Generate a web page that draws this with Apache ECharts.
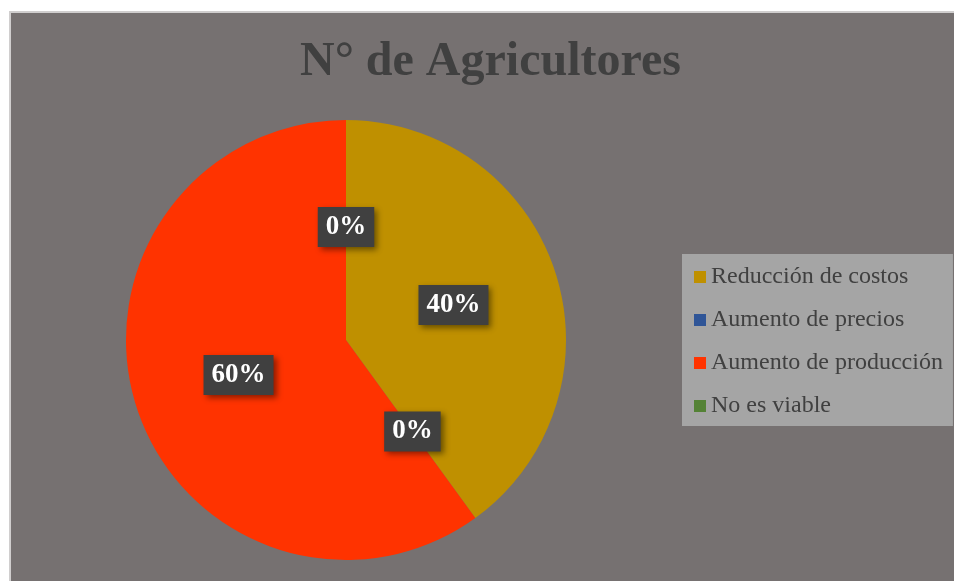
<!DOCTYPE html>
<html>
<head>
<meta charset="utf-8">
<script src="https://cdn.jsdelivr.net/npm/echarts@6/dist/echarts.min.js"></script>
<style>
  html, body { margin: 0; padding: 0; background: #fff; }
  #chart { width: 954px; height: 581px; }
</style>
</head>
<body>
<div id="chart"></div>
<script>
// datos del grafico (porcentajes)
var categorias = ['Reducción de costos', 'Aumento de precios', 'Aumento de producción', 'No es viable']
var valores = [40, 0, 60, 0]

var serif = '"Liberation Serif", "DejaVu Serif", serif'

var chart = echarts.init(document.getElementById('chart'))

chart.setOption({
  backgroundColor: '#ffffff',
  color: ['#bf9000', '#2f5597', '#ff3300', '#548235'],
  graphic: [{
    type: 'rect',
    silent: true,
    z: -10,
    shape: { x: 10, y: 12, width: 960, height: 590 },
    style: { fill: '#767171', stroke: '#d0cece', lineWidth: 2 }
  }],
  title: {
    text: 'N° de Agricultores',
    left: 300,
    top: 39,
    padding: 0,
    textStyle: {
      fontFamily: serif,
      fontWeight: 'bold',
      fontSize: 48,
      color: '#404040'
    }
  },
  legend: {
    orient: 'vertical',
    left: 682,
    top: 254,
    padding: [11, 10, 8, 12],
    backgroundColor: '#a5a5a5',
    icon: 'rect',
    itemWidth: 12,
    itemHeight: 12,
    itemGap: 19,
    data: categorias,
    textStyle: {
      fontFamily: serif,
      fontSize: 24,
      lineHeight: 24,
      color: '#404040'
    }
  },
  series: [{
    type: 'pie',
    center: [346, 340],
    radius: 220,
    startAngle: 90,
    clockwise: true,
    minShowLabelAngle: 0,
    stillShowZeroSum: true,
    avoidLabelOverlap: false,
    animation: false,
    label: {
      show: true,
      position: 'inside',
      formatter: '{d}%',
      fontFamily: serif,
      fontWeight: 'bold',
      fontSize: 27,
      color: '#ffffff',
      backgroundColor: '#404040',
      padding: [7, 8, 6, 8],
      shadowColor: 'rgba(0,0,0,0.45)',
      shadowBlur: 6,
      shadowOffsetX: 3,
      shadowOffsetY: 3
    },
    labelLine: { show: false },
    emphasis: { disabled: true },
    data: categorias.map(function (c, i) {
      return { name: c, value: valores[i] }
    })
  }]
})
</script>
</body>
</html>
